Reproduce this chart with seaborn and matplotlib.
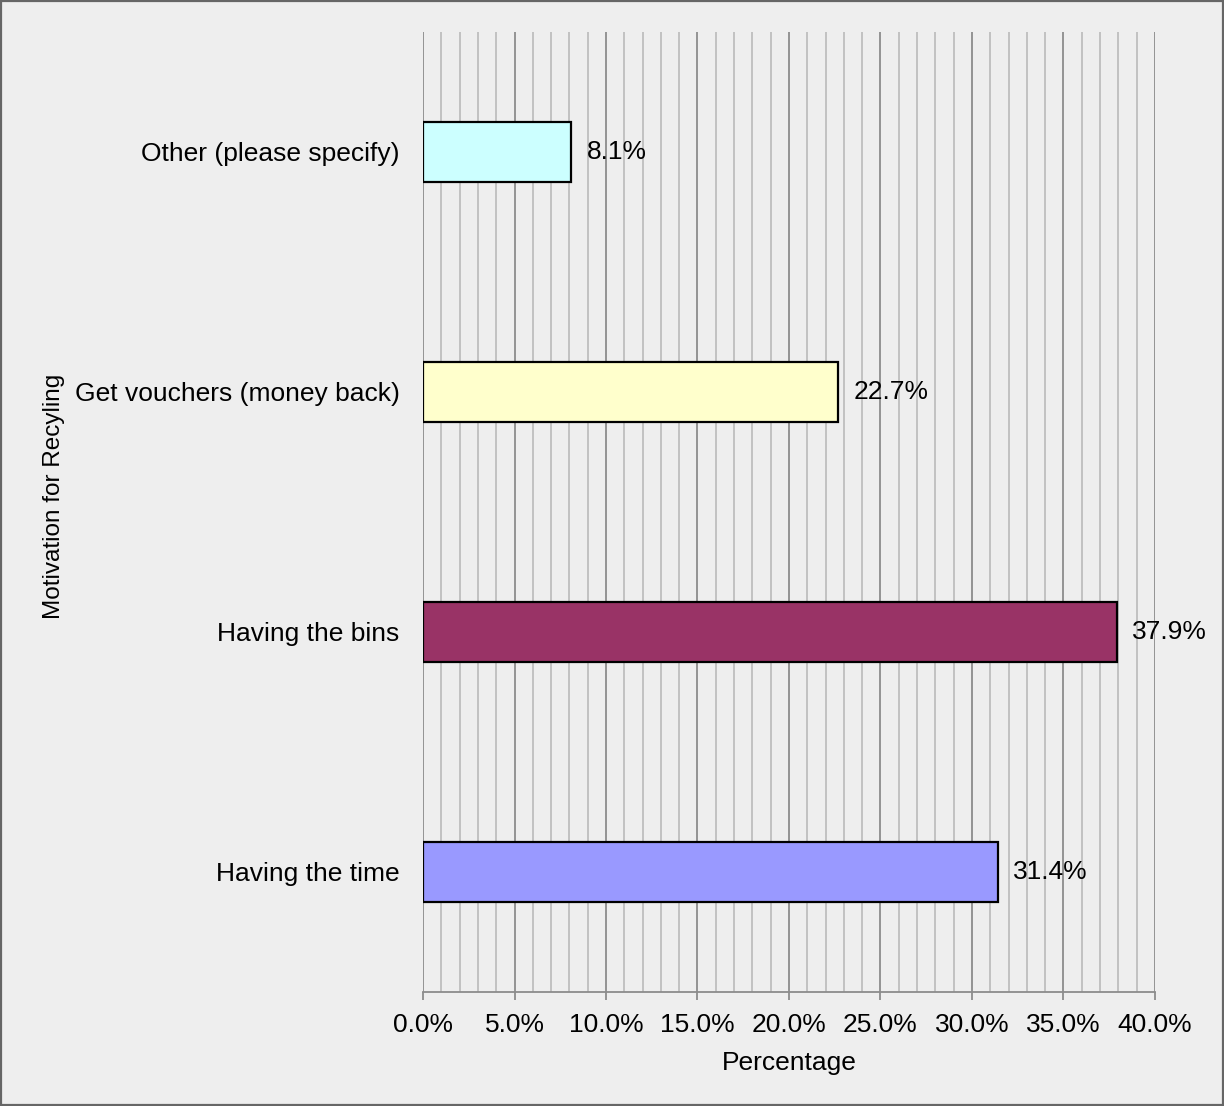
import matplotlib
matplotlib.use("Agg")
import matplotlib.pyplot as plt
from matplotlib.ticker import MultipleLocator, PercentFormatter
from matplotlib.patches import Rectangle
import seaborn as sns
import pandas as pd

# Survey responses: motivation for recycling
categories = ["Other (please specify)", "Get vouchers (money back)",
              "Having the bins", "Having the time"]
percentages = [8.1, 22.7, 37.9, 31.4]
bar_colors = ["#CCFFFF", "#FFFFCC", "#993366", "#9999FF"]
x_label = "Percentage"
y_label = "Motivation for Recyling"

df = pd.DataFrame({"category": categories, "pct": percentages})

sns.set_theme(style="white")
plt.rcParams["font.family"] = ["Liberation Sans", "DejaVu Sans"]

bg = "#EEEEEE"
fs = 19
fig = plt.figure(figsize=(12.24, 11.06), dpi=100, facecolor=bg)
ax = fig.add_axes([0.3456, 0.1031, 0.598, 0.868])
ax.set_facecolor(bg)

sns.barplot(data=df, x="pct", y="category", hue="category", order=categories,
            hue_order=categories, palette=bar_colors, saturation=1, orient="h",
            width=0.25, edgecolor="black", linewidth=1.6, legend=False, ax=ax,
            zorder=3)

ax.set_xlim(0, 40)
ax.set_ylim(3.5, -0.5)
ax.xaxis.set_major_locator(MultipleLocator(5))
ax.xaxis.set_minor_locator(MultipleLocator(1))
ax.xaxis.set_major_formatter(PercentFormatter(decimals=1))

ax.grid(which="major", axis="x", color="#8C8C8C", linewidth=1.3, zorder=0)
ax.grid(which="minor", axis="x", color="#BEBEBE", linewidth=1.3, zorder=0)
ax.grid(which="major", axis="y", visible=False)

for side in ["top", "right", "left"]:
    ax.spines[side].set_visible(False)
ax.spines["bottom"].set_color("#8C8C8C")
ax.spines["bottom"].set_linewidth(1.3)

ax.tick_params(axis="x", which="major", bottom=True, length=6, width=1.3,
               color="#8C8C8C", labelsize=fs, pad=9, labelcolor="black")
ax.tick_params(axis="x", which="minor", bottom=False)
ax.tick_params(axis="y", left=False, labelsize=fs, pad=11, labelcolor="black")

ax.set_xlabel(x_label, fontsize=fs, labelpad=10, color="black")
ax.set_ylabel(y_label, fontsize=17.5, color="black")
ax.yaxis.set_label_coords(-0.489, 0.516)

for i, v in enumerate(percentages):
    ax.annotate(f"{v:.1f}%", xy=(v, i), xytext=(11, 0), textcoords="offset points",
                va="center", ha="left", fontsize=fs, color="black", zorder=4)

# Outer frame around the whole figure
fig.patches.append(Rectangle((0.0008, 0.0009), 0.9984, 0.9982, transform=fig.transFigure,
                             fill=False, edgecolor="#666666", linewidth=1.6))

fig.savefig("out.png", dpi=100, facecolor=bg)
